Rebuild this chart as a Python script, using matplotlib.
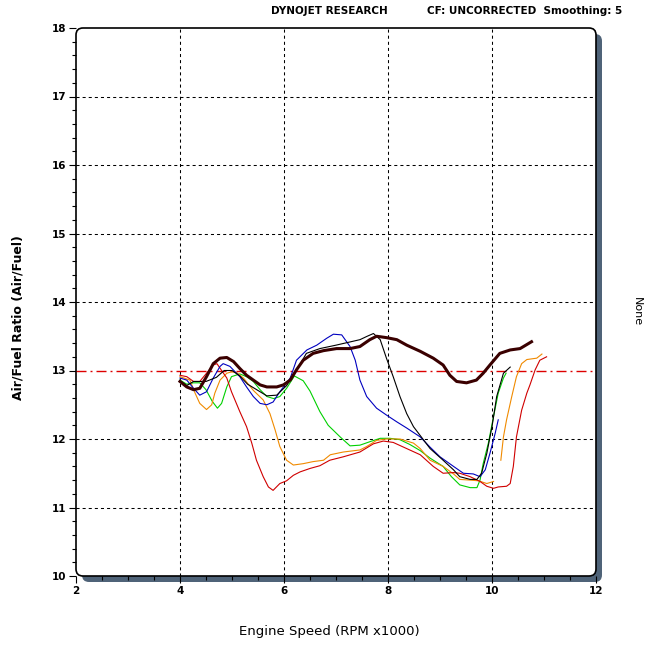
import matplotlib
matplotlib.use("Agg")
import matplotlib.pyplot as plt
from matplotlib.patches import FancyBboxPatch
from matplotlib.transforms import IdentityTransform
from matplotlib.ticker import MultipleLocator

plt.rcParams['lines.scale_dashes'] = False
plt.rcParams['font.family'] = ['DejaVu Sans']

# ---------------- data ----------------
base_rpm = [4.0, 4.13, 4.26, 4.38, 4.51, 4.64, 4.77, 4.90, 5.03, 5.15, 5.28, 5.41, 5.54, 5.67, 5.86, 5.99,
            6.12, 6.24, 6.37, 6.56, 6.76, 7.01, 7.27, 7.46, 7.65, 7.78, 7.97, 8.17, 8.36, 8.62, 8.87, 9.06,
            9.19, 9.32, 9.51, 9.70, 9.83, 9.96, 10.15, 10.35, 10.54, 10.76]
base_afr = [12.84, 12.76, 12.72, 12.74, 12.91, 13.10, 13.18, 13.19, 13.13, 13.03, 12.93, 12.86, 12.79, 12.76,
            12.76, 12.79, 12.86, 13.01, 13.15, 13.25, 13.29, 13.32, 13.32, 13.35, 13.45, 13.50, 13.48, 13.45,
            13.37, 13.28, 13.18, 13.08, 12.93, 12.84, 12.82, 12.86, 12.96, 13.08, 13.25, 13.30, 13.32, 13.42]

black_rpm = [4.0, 4.13, 4.26, 4.5, 4.7, 4.85, 5.0, 5.15, 5.3, 5.54, 5.67, 5.86, 6.05, 6.24, 6.43, 6.69, 7.0,
             7.46, 7.6, 7.72, 7.85, 7.97, 8.10, 8.23, 8.36, 8.49, 8.62, 8.81, 9.06, 9.26, 9.38, 9.58, 9.71,
             9.80, 9.90, 10.0, 10.09, 10.22, 10.35]
black_afr = [12.85, 12.78, 12.84, 12.84, 12.90, 13.0, 13.0, 12.92, 12.80, 12.69, 12.63, 12.64, 12.78, 13.0,
             13.25, 13.32, 13.37, 13.45, 13.50, 13.54, 13.45, 13.18, 12.91, 12.62, 12.37, 12.18, 12.05,
             11.86, 11.69, 11.55, 11.45, 11.41, 11.41, 11.50, 11.79, 12.18, 12.62, 12.96, 13.05]

blue_rpm = [4.0, 4.13, 4.26, 4.38, 4.51, 4.64, 4.77, 4.83, 4.96, 5.15, 5.28, 5.41, 5.54, 5.67, 5.79, 5.92,
            6.12, 6.24, 6.44, 6.63, 6.82, 6.95, 7.11, 7.27, 7.37, 7.46, 7.59, 7.78, 7.97, 8.17, 8.36, 8.62,
            8.81, 9.0, 9.26, 9.45, 9.64, 9.77, 9.87, 9.96, 10.06, 10.12]
blue_afr = [12.89, 12.86, 12.74, 12.64, 12.69, 12.89, 13.06, 13.10, 13.06, 12.91, 12.76, 12.62, 12.52, 12.50,
            12.54, 12.69, 12.89, 13.15, 13.30, 13.37, 13.47, 13.53, 13.52, 13.35, 13.15, 12.86, 12.62,
            12.45, 12.35, 12.25, 12.16, 12.03, 11.88, 11.74, 11.60, 11.50, 11.49, 11.45, 11.55, 11.79,
            12.08, 12.28]

green_rpm = [4.0, 4.13, 4.26, 4.38, 4.50, 4.62, 4.72, 4.80, 4.90, 4.99, 5.15, 5.28, 5.41, 5.54, 5.67, 5.80,
             5.92, 6.05, 6.20, 6.37, 6.50, 6.69, 6.85, 7.08, 7.27, 7.46, 7.65, 7.85, 8.04, 8.23, 8.42, 8.62,
             8.81, 9.06, 9.22, 9.38, 9.58, 9.71, 9.77, 9.83, 9.93, 10.03, 10.12, 10.22, 10.27]
green_afr = [12.86, 12.80, 12.82, 12.82, 12.72, 12.55, 12.45, 12.52, 12.76, 12.91, 12.95, 12.91, 12.84,
             12.72, 12.62, 12.59, 12.62, 12.74, 12.92, 12.85, 12.70, 12.40, 12.20, 12.03, 11.90, 11.91,
             11.96, 12.01, 12.01, 11.99, 11.92, 11.83, 11.72, 11.60, 11.45, 11.33, 11.29, 11.29, 11.40,
             11.64, 11.94, 12.33, 12.67, 12.89, 12.96]

orange_rpm_a = [4.0, 4.19, 4.29, 4.38, 4.51, 4.61, 4.67, 4.77, 4.90, 4.99, 5.09, 5.22, 5.41, 5.60, 5.73,
                5.83, 5.92, 6.05, 6.18, 6.37, 6.56, 6.76, 6.89, 7.14, 7.46, 7.59, 7.78, 7.97, 8.23, 8.49,
                8.62, 8.81, 9.06, 9.26, 9.38, 9.58, 9.74, 9.90, 10.03]
orange_afr_a = [12.91, 12.86, 12.67, 12.52, 12.43, 12.50, 12.67, 12.86, 12.96, 12.98, 12.97, 12.89, 12.71,
                12.57, 12.37, 12.13, 11.89, 11.69, 11.62, 11.64, 11.67, 11.69, 11.77, 11.81, 11.84, 11.89,
                11.98, 12.0, 12.0, 11.94, 11.86, 11.69, 11.60, 11.49, 11.41, 11.40, 11.39, 11.35, 11.38]
orange_rpm_b = [10.17, 10.22, 10.28, 10.38, 10.47, 10.57, 10.67, 10.86, 10.96]
orange_afr_b = [11.69, 12.03, 12.28, 12.62, 12.91, 13.10, 13.16, 13.18, 13.24]

red_rpm = [4.0, 4.13, 4.26, 4.38, 4.51, 4.64, 4.71, 4.80, 4.90, 4.99, 5.15, 5.28, 5.38, 5.47, 5.60, 5.70,
           5.79, 5.92, 6.05, 6.18, 6.31, 6.50, 6.69, 6.88, 7.14, 7.46, 7.72, 7.91, 8.10, 8.36, 8.62, 8.87,
           9.06, 9.26, 9.38, 9.58, 9.77, 9.90, 10.03, 10.12, 10.28, 10.35, 10.41, 10.47, 10.57, 10.67,
           10.73, 10.83, 10.92, 11.05]
red_afr = [12.93, 12.91, 12.84, 12.84, 12.96, 13.08, 13.10, 13.0, 12.89, 12.69, 12.40, 12.18, 11.94, 11.69,
           11.45, 11.30, 11.25, 11.35, 11.39, 11.47, 11.52, 11.57, 11.61, 11.69, 11.74, 11.81, 11.93, 11.97,
           11.95, 11.86, 11.77, 11.60, 11.50, 11.51, 11.50, 11.45, 11.38, 11.31, 11.28, 11.30, 11.31, 11.35,
           11.60, 12.03, 12.42, 12.67, 12.79, 13.01, 13.15, 13.20]

target_afr = 13.0
x_ticks = [2, 4, 6, 8, 10, 12]
y_ticks = [10, 11, 12, 13, 14, 15, 16, 17, 18]

# ---------------- figure ----------------
W, H, DPI = 661, 649, 100
fig = plt.figure(figsize=(W / DPI, H / DPI), dpi=DPI)
L, R, T, B = 76, 596, 28, 576
ax = fig.add_axes([L / W, 1 - B / H, (R - L) / W, (B - T) / H])
ax.patch.set_visible(False)
for s in ax.spines.values():
    s.set_visible(False)

# shadow + rounded frame (pixel coordinates)
shadow = FancyBboxPatch((L + 6, H - B - 6), R - L, B - T,
                        boxstyle="round,pad=0,rounding_size=7",
                        transform=IdentityTransform(), facecolor='#4f6378',
                        edgecolor='none', zorder=-3)
frame = FancyBboxPatch((L, H - B), R - L, B - T,
                       boxstyle="round,pad=0,rounding_size=7",
                       transform=IdentityTransform(), facecolor='white',
                       edgecolor='black', linewidth=1.2, zorder=-2)
fig.patches.extend([shadow, frame])

ax.set_xlim(2, 12)
ax.set_ylim(10, 18)
ax.set_xticks(x_ticks)
ax.set_yticks(y_ticks)
ax.xaxis.set_minor_locator(MultipleLocator(0.5))
ax.yaxis.set_minor_locator(MultipleLocator(0.2))
ax.tick_params(axis='both', which='major', direction='out', length=5, width=0.8,
               labelsize=7.5, pad=2)
ax.tick_params(axis='both', which='minor', direction='out', length=3, width=0.8)
ax.tick_params(top=False, right=False)
for lab in ax.get_xticklabels() + ax.get_yticklabels():
    lab.set_fontweight('bold')

grid_dash = (0, (2.2, 2.2))
for xv in x_ticks[1:-1]:
    ax.axvline(xv, color='black', lw=0.75, linestyle=grid_dash, zorder=1)
for yv in y_ticks[1:-1]:
    if yv != target_afr:
        ax.axhline(yv, color='black', lw=0.75, linestyle=grid_dash, zorder=1)
ax.axhline(target_afr, color='#dd0000', lw=1.0, linestyle=(0, (7.2, 2.9, 1.4, 2.9)), zorder=1)

thin = 0.8
ax.plot(green_rpm, green_afr, color='#00d000', lw=thin, zorder=2)
ax.plot(orange_rpm_a, orange_afr_a, color='#f08a00', lw=thin, zorder=2)
ax.plot(orange_rpm_b, orange_afr_b, color='#f08a00', lw=thin, zorder=2)
ax.plot(red_rpm, red_afr, color='#d00000', lw=thin, zorder=2)
ax.plot(blue_rpm, blue_afr, color='#0000c0', lw=thin, zorder=2)
ax.plot(black_rpm, black_afr, color='black', lw=thin, zorder=3)
ax.plot(base_rpm, base_afr, color='#3a0000', lw=2.2, zorder=4)

# texts
fig.text(329 / W, 1 - 11 / H, 'DYNOJET RESEARCH', ha='center', va='center',
         fontsize=7.5, fontweight='bold')
fig.text(525 / W, 1 - 11 / H, 'CF: UNCORRECTED  Smoothing: 5', ha='center', va='center',
         fontsize=7.5, fontweight='bold')
fig.text(329 / W, 1 - 632 / H, 'Engine Speed (RPM x1000)', ha='center', va='center',
         fontsize=9.5)
fig.text(18 / W, 1 - 318 / H, 'Air/Fuel Ratio (Air/Fuel)', ha='center', va='center',
         rotation=90, fontsize=9, fontweight='bold')
fig.text(637 / W, 1 - 312 / H, 'None', ha='center', va='center',
         rotation=270, fontsize=8)

fig.savefig('out.png', dpi=DPI)
